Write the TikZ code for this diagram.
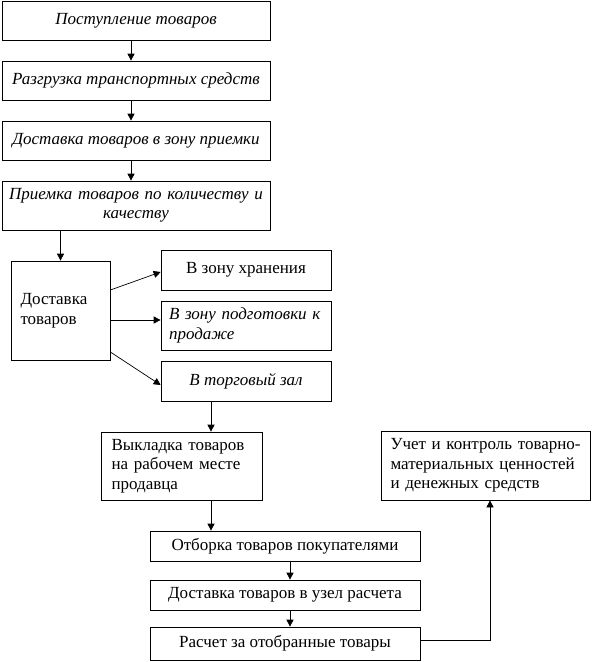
\documentclass[tikz,border=0pt]{standalone}
\usepackage{fontspec}
\setmainfont{Liberation Serif}
\usetikzlibrary{arrows.meta,calc}

\begin{document}
\begin{tikzpicture}[x=1pt, y=-1pt, line width=0.7pt,
    box/.style={draw, rectangle, inner sep=0pt, font=\fontsize{17}{19.5}\selectfont},
    itbox/.style={box, font=\fontsize{17}{19.5}\selectfont\itshape},
    flow/.style={-{Triangle[length=7pt,width=7pt]}}]
  \useasboundingbox (0,0) rectangle (592,662);
  % receiving chain
  \node[itbox, minimum width=268pt, minimum height=39pt] (recv) at (136,20.5) {Поступление товаров};
  \node[itbox, minimum width=268pt, minimum height=39pt] (unload) at (136,80.5) {Разгрузка транспортных средств};
  \node[itbox, minimum width=268pt, minimum height=39pt] (tozone) at (136,140.5) {Доставка товаров в зону приемки};
  \node[itbox, minimum width=268pt, minimum height=49pt, text width=262pt, align=center] (accept) at (136,205.5)
    {Приемка товаров по количеству и\\качеству};
  % distribution
  \node[box, minimum width=99pt, minimum height=99pt, text width=80pt, align=left] (deliver) at (60.5,310.5)
    {Доставка\\товаров};
  \node[box, minimum width=170pt, minimum height=40pt] (store) at (246,270) {В зону хранения};
  \node[itbox, minimum width=170pt, minimum height=49pt, text width=154pt, align=left] (prep) at (246,325.5)
    {В зону подготовки к\\продаже};
  \node[itbox, minimum width=170pt, minimum height=40pt] (hall) at (246,381) {В торговый зал};
  % sales floor
  \node[box, minimum width=161pt, minimum height=68pt, text width=140pt, align=left] (display) at (181.5,466)
    {Выкладка товаров\\на рабочем месте\\продавца};
  \node[box, minimum width=209pt, minimum height=69pt, text width=190pt, align=left] (account) at (485.5,465.5)
    {\mbox{Учет и контроль товарно-}\\материальных ценностей\\и денежных средств};
  \node[box, minimum width=270pt, minimum height=30pt] (pick) at (285,546) {Отборка товаров покупателями};
  \node[box, minimum width=270pt, minimum height=30pt] (tocash) at (285,595) {Доставка товаров в узел расчета};
  \node[box, minimum width=270pt, minimum height=33pt] (pay) at (285,643.5) {Расчет за отобранные товары};
  % connectors
  \draw[flow] ([xshift=-5pt]recv.south) -- ([xshift=-5pt]unload.north);
  \draw[flow] ([xshift=-5pt]unload.south) -- ([xshift=-5pt]tozone.north);
  \draw[flow] ([xshift=-5pt]tozone.south) -- ([xshift=-5pt]accept.north);
  \draw[flow] (deliver.north |- accept.south) -- (deliver.north);
  \draw[flow] ([yshift=20.5pt]deliver.east) -- ([yshift=-2pt]store.west);
  \draw[flow] ([yshift=-9.5pt]deliver.east) -- ([yshift=-9.5pt]deliver.east -| prep.west);
  \draw[flow] ([yshift=-41.5pt]deliver.east) -- ([yshift=-4pt]hall.west);
  \draw[flow] ([xshift=-35pt]hall.south) -- ([xshift=-35pt]hall.south |- display.north);
  \draw[flow] ([xshift=29.5pt]display.south) -- ([xshift=29.5pt]display.south |- pick.north);
  \draw[flow] ([xshift=5pt]pick.south) -- ([xshift=5pt]tocash.north);
  \draw[flow] ([xshift=5pt]tocash.south) -- ([xshift=5pt]pay.north);
  \draw[flow] ([yshift=3.5pt]pay.east) -| ([xshift=4.5pt]account.south);
\end{tikzpicture}
\end{document}
